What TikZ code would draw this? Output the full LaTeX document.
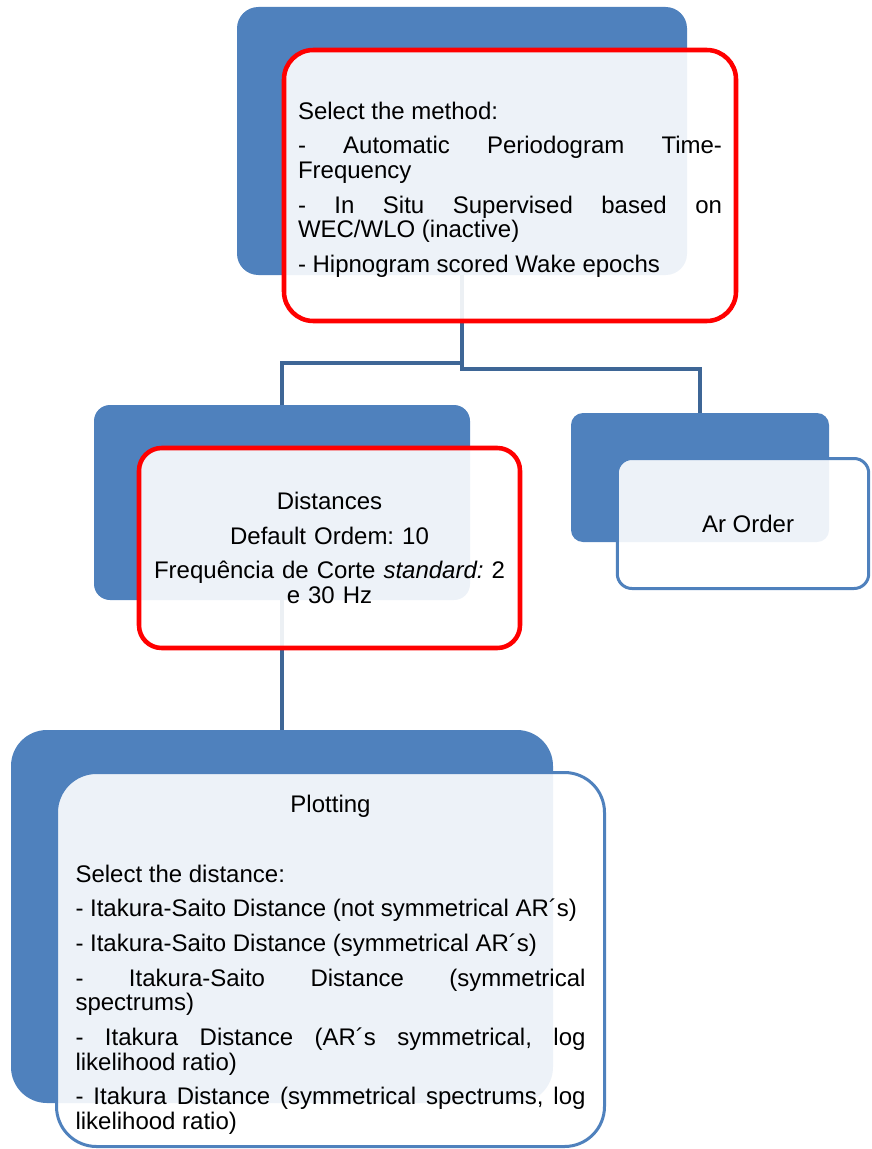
\documentclass[tikz,border=0pt]{standalone}
\usepackage{fontspec}
\setmainfont{Liberation Sans}
\definecolor{accent}{HTML}{4F81BD}
\definecolor{linkblue}{HTML}{3E6696}
\definecolor{redline}{HTML}{FF0000}

\tikzset{
  back/.style={fill=accent, draw=none, inner sep=0pt},
  front/.style={fill=white, fill opacity=0.9, text opacity=1, inner sep=0pt,
    font=\fontsize{18pt}{18.5pt}\selectfont\frenchspacing,
    execute at begin node={\setlength\parskip{7.5pt}}},
  redframe/.style={front, draw=redline, line width=3.4pt},
  blueframe/.style={front, draw=accent, line width=2.25pt},
  link/.style={draw=linkblue, line width=3pt}
}

\begin{document}
\begin{tikzpicture}[x=0.75pt,y=-0.75pt]
\useasboundingbox (0,0) rectangle (871,1149);
% back panels
\node[back, minimum width=337.5pt, minimum height=201pt, rounded corners=16pt] (topback) at (462,141) {};
\node[back, minimum width=282pt, minimum height=146.25pt, rounded corners=12pt] (midback) at (282,502.5) {};
\node[back, minimum width=193.5pt, minimum height=96.75pt, rounded corners=9pt] (rightback) at (700,477.5) {};
\node[back, minimum width=406.5pt, minimum height=279.75pt, rounded corners=27pt] (botback) at (282,916.5) {};
% tree links
\draw[link] (topback.south) -- ++(0,94) -| (rightback.north);
\draw[link] (topback.south) ++(0,88) -| (midback.north);
\draw[link] (midback.south) -- (botback.north);
% front panels
\node[redframe, minimum width=339pt, minimum height=203.25pt, rounded corners=22pt,
  text width=318pt, align=justify] (method) at (510,185.5) {%
\rule{0pt}{19pt}Select the method:\par
- Automatic Periodogram Time-\linebreak Frequency\par
- In Situ Supervised based on\linebreak WEC/WLO (inactive)\par
- Hipnogram scored Wake epochs};
\node[redframe, minimum width=285.75pt, minimum height=150pt, rounded corners=17pt,
  text width=270pt, align=center] (distances) at (329.5,548) {%
Distances\\[7.5pt]
Default Ordem: 10\\[7.5pt]
Frequência de Corte \textit{standard:} 2\\
e 30 Hz};
\node[blueframe, minimum width=188.6pt, minimum height=97.5pt, rounded corners=11pt] (arorder) at (743,523.5) {\hspace*{7.5pt}Ar Order};
\node[blueframe, minimum width=411pt, minimum height=280.5pt, rounded corners=30pt,
  text width=382.5pt, align=justify] (plotting) at (330.5,959.5) {%
{\centering\rule{0pt}{21pt}Plotting\par}
\mbox{}\par
Select the distance:\par
- Itakura-Saito Distance (not symmetrical AR´s)\par
- Itakura-Saito Distance (symmetrical AR´s)\par
- Itakura-Saito Distance (symmetrical\linebreak spectrums)\par
- Itakura Distance (AR´s symmetrical, log\linebreak likelihood ratio)\par
- Itakura Distance (symmetrical spectrums, log\linebreak likelihood ratio)};
\end{tikzpicture}
\end{document}
